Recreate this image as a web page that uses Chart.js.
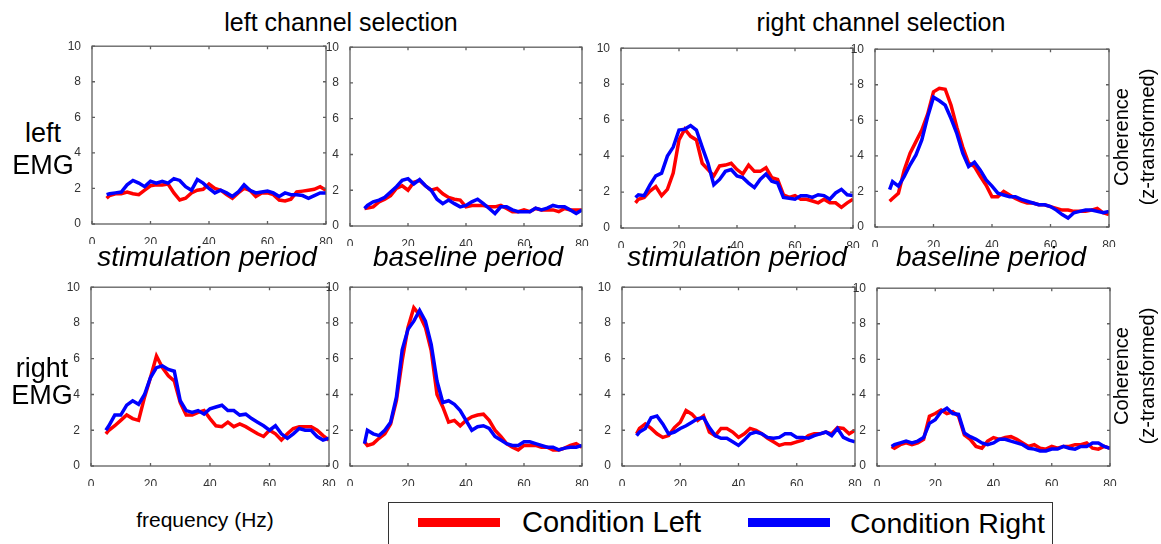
<!DOCTYPE html>
<html>
<head>
<meta charset="utf-8">
<script src="https://cdn.jsdelivr.net/npm/chart.js@4/dist/chart.umd.min.js"></script>
<style>
  html,body{margin:0;padding:0;background:#fff;}
  body{position:relative;width:1161px;height:544px;overflow:hidden;font-family:"Liberation Sans",Arial,sans-serif;color:#000;}
  .t{position:absolute;white-space:nowrap;line-height:1;}
  .pane{position:absolute;}
  .legbox{position:absolute;left:388px;top:502px;width:665px;height:60px;border:1.5px solid #333;box-sizing:border-box;}
  .sw{position:absolute;height:9px;width:82px;}
</style>
</head>
<body>
<script>
// ---------------- data ----------------
const freq = [5,6,8,10,12,14,16,18,20,22,24,26,28,30,32,34,36,38,40,42,44,46,48,50,52,54,56,58,60,62,64,66,68,70,72,74,76,78,80];
const xTicks = [0,20,40,60,80];
const yTicks = [0,2,4,6,8,10];

// left EMG, left channel selection, stimulation period
const lEMG_lSel_stim_condLeft  = [1.45,1.6,1.7,1.7,1.8,1.7,1.65,1.9,2.15,2.2,2.2,2.25,1.75,1.35,1.45,1.75,1.9,1.95,2.25,2.0,1.9,1.65,1.45,1.75,2.0,1.9,1.55,1.75,1.75,1.65,1.35,1.3,1.4,1.8,1.85,1.9,1.95,2.1,1.9];
const lEMG_lSel_stim_condRight = [1.65,1.7,1.75,1.8,2.2,2.45,2.3,2.1,2.4,2.3,2.4,2.3,2.55,2.45,2.1,1.9,2.5,2.3,2.0,1.75,1.9,1.75,1.55,1.8,2.2,1.9,1.75,1.8,1.85,1.75,1.55,1.75,1.65,1.65,1.6,1.45,1.6,1.75,1.75];
// left EMG, left channel selection, baseline period
const lEMG_lSel_base_condLeft  = [0.98,1.0,1.07,1.35,1.5,1.7,2.1,2.25,2.0,2.45,2.55,2.25,2.0,2.1,1.8,1.6,1.5,1.45,1.07,1.15,1.15,1.15,1.07,1.07,1.15,0.98,0.8,0.8,0.9,0.8,0.98,0.9,0.9,0.9,0.8,0.98,0.9,0.9,0.9];
const lEMG_lSel_base_condRight = [0.98,1.15,1.35,1.45,1.6,1.9,2.2,2.55,2.65,2.35,2.6,2.25,2.0,1.5,1.25,1.45,1.25,1.07,1.15,1.35,1.5,1.25,0.98,0.7,1.07,1.07,0.9,0.8,0.8,0.8,1.0,0.9,1.0,1.15,1.07,1.07,0.9,0.7,0.9];
// left EMG, right channel selection, stimulation period
const lEMG_rSel_stim_condLeft  = [1.4,1.6,1.7,2.05,2.3,1.8,2.15,3.05,4.9,5.5,5.1,4.9,3.6,3.25,2.9,3.45,3.5,3.6,3.25,3.0,3.5,3.15,3.15,3.35,2.8,2.7,1.85,1.7,1.8,1.6,1.6,1.5,1.4,1.6,1.4,1.4,1.15,1.4,1.6];
const lEMG_rSel_stim_condRight = [1.7,1.85,1.8,2.4,2.9,3.05,4.0,4.5,5.45,5.5,5.7,5.45,4.5,3.6,2.4,2.7,3.15,3.25,2.9,2.8,2.5,2.25,2.7,3.0,2.6,2.5,1.7,1.65,1.6,1.8,1.8,1.7,1.85,1.8,1.6,1.95,2.15,1.85,1.8];
// left EMG, right channel selection, baseline period
const lEMG_rSel_base_condLeft  = [1.45,1.6,1.9,3.2,4.15,4.8,5.45,6.35,7.6,7.8,7.75,6.85,5.6,4.5,3.6,3.4,2.85,2.35,1.7,1.7,2.0,1.8,1.6,1.45,1.35,1.35,1.25,1.25,1.15,1.05,0.95,0.95,0.88,0.88,0.88,0.95,1.05,0.8,0.7];
const lEMG_rSel_base_condRight = [2.1,2.55,2.3,2.85,3.5,4.05,4.9,6.2,7.3,7.1,6.85,6.1,5.25,4.15,3.4,3.65,3.2,2.65,2.3,1.9,1.8,1.7,1.7,1.55,1.45,1.35,1.25,1.25,1.15,0.95,0.7,0.5,0.8,0.88,0.95,0.95,0.88,0.8,0.88];
// right EMG, left channel selection, stimulation period
const rEMG_lSel_stim_condLeft  = [1.8,2.0,2.25,2.55,2.85,2.65,2.55,3.85,4.95,6.15,5.5,5.05,4.75,3.55,2.85,2.85,3.0,3.1,2.65,2.25,2.2,2.45,2.2,2.35,2.2,2.0,1.8,1.65,2.0,1.8,1.45,1.8,2.1,2.2,2.2,2.2,2.0,1.7,1.45];
const rEMG_lSel_stim_condRight = [2.0,2.25,2.85,2.85,3.4,3.65,3.45,4.0,4.95,5.5,5.6,5.4,5.3,3.65,3.1,3.0,3.1,2.9,3.2,3.3,3.4,3.1,3.1,2.85,2.9,2.65,2.45,2.25,2.0,2.25,1.8,1.55,1.8,2.1,2.0,2.0,1.65,1.45,1.55];
// right EMG, left channel selection, baseline period
const rEMG_lSel_base_condLeft  = [1.35,1.15,1.25,1.55,1.8,2.35,3.65,5.9,7.75,8.85,8.45,7.75,6.45,4.0,3.3,2.45,2.55,2.25,2.55,2.75,2.85,2.9,2.55,2.0,1.65,1.25,1.05,0.9,1.15,1.15,1.15,1.05,1.05,0.9,0.9,1.0,1.15,1.25,1.05];
const rEMG_lSel_base_condRight = [1.25,2.0,1.8,1.7,2.0,2.45,3.85,6.5,7.65,8.1,8.7,8.1,6.8,4.75,3.55,3.65,3.45,3.1,2.55,2.0,2.2,2.25,2.1,1.65,1.45,1.25,1.15,1.15,1.35,1.35,1.25,1.15,1.05,1.05,0.9,1.0,1.05,1.05,1.15];
// right EMG, right channel selection, stimulation period
const rEMG_rSel_stim_condLeft  = [1.8,2.1,2.35,2.1,1.8,1.6,1.7,2.15,2.45,3.1,2.9,2.55,2.8,1.9,1.7,2.1,2.1,1.9,1.6,1.8,2.1,2.0,1.8,1.55,1.35,1.15,1.25,1.25,1.35,1.45,1.7,1.8,1.8,1.9,1.8,2.15,2.1,1.8,2.0];
const rEMG_rSel_stim_condRight = [1.7,1.9,2.1,2.7,2.8,2.35,1.8,1.9,2.1,2.25,2.45,2.65,2.7,2.15,1.7,1.55,1.55,1.35,1.15,1.45,1.8,1.9,1.8,1.6,1.55,1.6,1.8,1.8,1.6,1.6,1.55,1.7,1.8,1.9,1.7,2.1,1.6,1.45,1.35];
// right EMG, right channel selection, baseline period
const rEMG_rSel_base_condLeft  = [1.1,1.0,1.2,1.3,1.2,1.3,1.5,2.8,2.95,3.15,2.95,3.05,2.8,1.75,1.5,1.1,1.0,1.4,1.6,1.5,1.6,1.65,1.5,1.3,1.1,1.2,1.0,0.95,1.1,1.0,1.1,1.1,1.2,1.2,1.3,1.0,0.95,1.1,1.0];
const rEMG_rSel_base_condRight = [1.1,1.2,1.3,1.4,1.3,1.4,1.6,2.4,2.6,3.05,3.25,2.95,2.9,1.85,1.65,1.5,1.3,1.2,1.3,1.5,1.5,1.4,1.3,1.2,1.0,0.95,0.85,0.85,0.95,0.95,1.1,1.0,0.95,1.1,1.1,1.3,1.3,1.1,1.0];

const seriesLabels = ["Condition Left","Condition Right"];

// ---------------- layout (plot-area boxes in page px) ----------------
const panels = [
  {x:92,  y:45,  w:234, h:179, red:lEMG_lSel_stim_condLeft, blue:lEMG_lSel_stim_condRight},
  {x:350, y:46,  w:232, h:180, red:lEMG_lSel_base_condLeft, blue:lEMG_lSel_base_condRight},
  {x:621, y:47,  w:232, h:181, red:lEMG_rSel_stim_condLeft, blue:lEMG_rSel_stim_condRight},
  {x:875, y:48,  w:234, h:179, red:lEMG_rSel_base_condLeft, blue:lEMG_rSel_base_condRight},
  {x:91,  y:286, w:238, h:180, red:rEMG_lSel_stim_condLeft, blue:rEMG_lSel_stim_condRight},
  {x:350, y:286, w:232, h:180, red:rEMG_lSel_base_condLeft, blue:rEMG_lSel_base_condRight},
  {x:622, y:286, w:233, h:180, red:rEMG_rSel_stim_condLeft, blue:rEMG_rSel_stim_condRight},
  {x:877, y:287, w:233, h:179, red:rEMG_rSel_base_condLeft, blue:rEMG_rSel_base_condRight}
];

const framePlugin = {
  id:'frame',
  afterDatasetsDraw(chart){
    const {ctx, chartArea:a, scales} = chart;
    ctx.save();
    ctx.strokeStyle = '#5e5e5e';
    ctx.lineWidth = 1.3;
    ctx.strokeRect(a.left, a.top, a.right - a.left, a.bottom - a.top);
    ctx.beginPath();
    xTicks.forEach(v => {
      const px = scales.x.getPixelForValue(v);
      ctx.moveTo(px, a.bottom); ctx.lineTo(px, a.bottom - 3);
      ctx.moveTo(px, a.top); ctx.lineTo(px, a.top + 3);
    });
    yTicks.forEach(v => {
      const py = scales.y.getPixelForValue(v);
      ctx.moveTo(a.left, py); ctx.lineTo(a.left + 3, py);
      ctx.moveTo(a.right, py); ctx.lineTo(a.right - 3, py);
    });
    ctx.stroke();
    ctx.restore();
  }
};

const padL = 30, padT = 9, padR = 12, padB = 20;
const tickFont = {family:'"Liberation Sans", Arial, sans-serif', size:12};

panels.forEach(p => {
  const div = document.createElement('div');
  div.className = 'pane';
  const W = p.w + padL + padR, H = p.h + padT + padB;
  div.style.left = (p.x - padL) + 'px';
  div.style.top = (p.y - padT) + 'px';
  div.style.width = W + 'px';
  div.style.height = H + 'px';
  const cv = document.createElement('canvas');
  cv.width = W; cv.height = H;
  cv.style.width = W + 'px'; cv.style.height = H + 'px';
  div.appendChild(cv);
  document.body.appendChild(div);
  new Chart(cv, {
    type:'line',
    data:{
      datasets:[
        {label:seriesLabels[1], data:freq.map((f,i)=>({x:f,y:p.blue[i]})), borderColor:'#0000ff', backgroundColor:'#0000ff', borderWidth:3.5, pointRadius:0, tension:0, order:0},
        {label:seriesLabels[0], data:freq.map((f,i)=>({x:f,y:p.red[i]})), borderColor:'#ff0000', backgroundColor:'#ff0000', borderWidth:3.5, pointRadius:0, tension:0, order:1}
      ]
    },
    options:{
      responsive:false, animation:false, devicePixelRatio:1,
      layout:{padding:{left:0, top:padT, right:padR, bottom:0}},
      plugins:{legend:{display:false}, tooltip:{enabled:false}},
      scales:{
        x:{type:'linear', min:0, max:80,
           afterBuildTicks(s){ s.ticks = xTicks.map(v=>({value:v})); },
           ticks:{font:tickFont, color:'#333', padding:3, maxRotation:0, autoSkip:false},
           grid:{display:false}, border:{display:false},
           afterFit(s){ s.height = padB; }},
        y:{type:'linear', min:0, max:10,
           afterBuildTicks(s){ s.ticks = yTicks.map(v=>({value:v})); },
           ticks:{font:tickFont, color:'#333', padding:3, autoSkip:false},
           grid:{display:false}, border:{display:false},
           afterFit(s){ s.width = padL; }}
      }
    },
    plugins:[framePlugin]
  });
});

// ---------------- text ----------------
function addText(txt, opts){
  const d = document.createElement('div');
  d.className = 't';
  d.textContent = txt;
  const size = opts.size;
  d.style.fontSize = size + 'px';
  if (opts.italic) d.style.fontStyle = 'italic';
  if (opts.rotate){
    d.style.left = opts.cx + 'px';
    d.style.top = opts.cy + 'px';
    d.style.transform = 'translate(-50%,-50%) rotate(-90deg)';
  } else if (opts.cx !== undefined){
    d.style.left = opts.cx + 'px';
    d.style.top = (opts.base - 0.8465*size) + 'px';
    d.style.transform = 'translateX(-50%)';
  } else {
    d.style.left = opts.left + 'px';
    d.style.top = (opts.base - 0.8465*size) + 'px';
  }
  document.body.appendChild(d);
}
addText('left channel selection',  {cx:341, base:31, size:25});
addText('right channel selection', {cx:881, base:31, size:25});
addText('stimulation period', {cx:207, base:267, size:28, italic:true});
addText('baseline period',    {cx:468, base:267, size:28, italic:true});
addText('stimulation period', {cx:737, base:267, size:28, italic:true});
addText('baseline period',    {cx:991, base:267, size:28, italic:true});
addText('left',  {cx:43, base:143, size:27});
addText('EMG',   {cx:43, base:175, size:27});
addText('right', {cx:42, base:378, size:27});
addText('EMG',   {cx:42, base:405, size:27});
addText('Coherence',       {cx:1121, cy:137, size:20, rotate:true});
addText('(z-transformed)', {cx:1147, cy:137, size:20, rotate:true});
addText('Coherence',       {cx:1121, cy:376, size:20, rotate:true});
addText('(z-transformed)', {cx:1147, cy:376, size:20, rotate:true});
addText('frequency (Hz)', {cx:205, base:527, size:21});

// legend
const box = document.createElement('div'); box.className = 'legbox'; document.body.appendChild(box);
const s1 = document.createElement('div'); s1.className='sw'; s1.style.left='418px'; s1.style.top='518px'; s1.style.background='#ff0000'; document.body.appendChild(s1);
const s2 = document.createElement('div'); s2.className='sw'; s2.style.left='748px'; s2.style.top='518px'; s2.style.background='#0000ff'; document.body.appendChild(s2);
addText(seriesLabels[0], {left:522, base:533, size:29});
addText(seriesLabels[1], {left:850, base:533, size:28.5});
</script>
</body>
</html>
